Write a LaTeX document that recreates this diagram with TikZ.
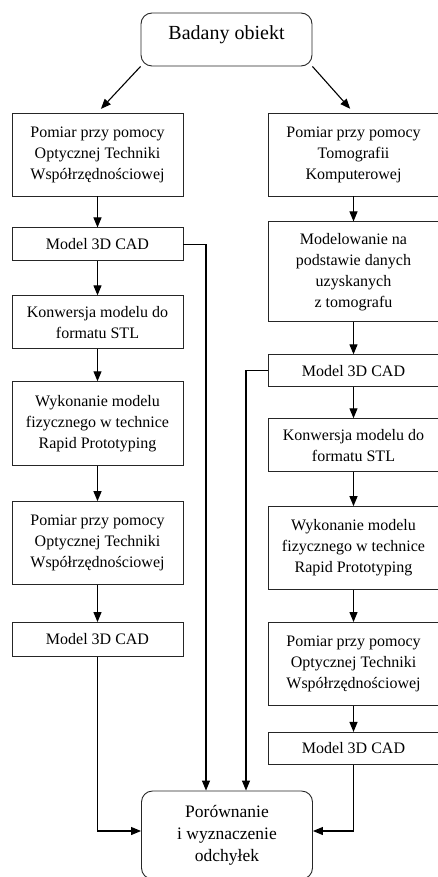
\documentclass[tikz,border=0pt]{standalone}
\usepackage{fontspec}
\setmainfont{Liberation Serif}
\usetikzlibrary{arrows.meta,positioning}

\begin{document}
\begin{tikzpicture}[
    krok/.style={rectangle, draw=black!85, line width=0.9pt, minimum width=171pt, align=center, inner sep=0pt, font=\fontsize{16}{21}\selectfont},
    skrajny/.style={rectangle, draw=black!85, line width=0.9pt, rounded corners=11pt, minimum width=171pt, align=center, inner sep=0pt},
    arrow/.style={-{Triangle[length=10pt,width=8pt]}, line width=1.1pt}
]
    \useasboundingbox (0,0) rectangle (438pt,-877pt);
    \clip (0,0) rectangle (438pt,-877pt);

    \node[skrajny, minimum height=53pt, font=\fontsize{20}{24}\selectfont, text height=14pt, text depth=14pt] (obiekt) at (226.5pt,-39.5pt) {Badany obiekt};

    % lewa kolumna
    \node[krok, minimum height=83pt] (pomiarL) at (97.5pt,-154.5pt) {Pomiar przy pomocy\\Optycznej Techniki\\Współrzędnościowej};
    \node[krok, minimum height=33pt, below=31pt of pomiarL] (cadL) {Model 3D CAD};
    \node[krok, minimum height=53pt, below=34pt of cadL] (stlL) {Konwersja modelu do\\formatu STL};
    \node[krok, minimum height=84pt, below=32pt of stlL] (rpL) {Wykonanie modelu\\fizycznego w technice\\Rapid Prototyping};
    \node[krok, minimum height=83pt, below=35pt of rpL] (pomiar2L) {Pomiar przy pomocy\\Optycznej Techniki\\Współrzędnościowej};
    \node[krok, minimum height=34pt, below=37pt of pomiar2L] (cad2L) {Model 3D CAD};

    % prawa kolumna
    \node[krok, minimum height=83pt] (pomiarP) at (353.5pt,-154.5pt) {Pomiar przy pomocy\\Tomografii\\Komputerowej};
    \node[krok, minimum height=100pt, below=25pt of pomiarP] (modelP) {Modelowanie na\\podstawie danych\\uzyskanych\\z tomografu};
    \node[krok, minimum height=32pt, below=32pt of modelP] (cadP) {Model 3D CAD};
    \node[krok, minimum height=53pt, below=31pt of cadP] (stlP) {Konwersja modelu do\\formatu STL};
    \node[krok, minimum height=83pt, below=34pt of stlP] (rpP) {Wykonanie modelu\\fizycznego w technice\\Rapid Prototyping};
    \node[krok, minimum height=83pt, below=32pt of rpP] (pomiar2P) {Pomiar przy pomocy\\Optycznej Techniki\\Współrzędnościowej};
    \node[krok, minimum height=32pt, below=26pt of pomiar2P] (cad2P) {Model 3D CAD};

    \node[skrajny, minimum height=88pt, font=\fontsize{17.5}{22}\selectfont] (wynik) at (227pt,-835pt) {Porównanie\\i wyznaczenie\\odchyłek};

    \draw[arrow, shorten >=5pt] (obiekt.south west) -- (pomiarL.north);
    \draw[arrow, shorten >=5pt] (obiekt.south east) -- (pomiarP.north);

    \draw[arrow] (pomiarL) -- (cadL);
    \draw[arrow] (cadL) -- (stlL);
    \draw[arrow] (stlL) -- (rpL);
    \draw[arrow] (rpL) -- (pomiar2L);
    \draw[arrow] (pomiar2L) -- (cad2L);

    \draw[arrow] (pomiarP) -- (modelP);
    \draw[arrow] (modelP) -- (cadP);
    \draw[arrow] (cadP) -- (stlP);
    \draw[arrow] (stlP) -- (rpP);
    \draw[arrow] (rpP) -- (pomiar2P);
    \draw[arrow] (pomiar2P) -- (cad2P);

    \draw[arrow] (cadL.east) -| ([xshift=-21pt]wynik.north);
    \draw[arrow] (cadP.west) -| ([xshift=19pt]wynik.north);
    \draw[arrow] (cad2L.south) |- ([yshift=4pt]wynik.west);
    \draw[arrow] (cad2P.south) |- ([yshift=4pt]wynik.east);
\end{tikzpicture}
\end{document}
